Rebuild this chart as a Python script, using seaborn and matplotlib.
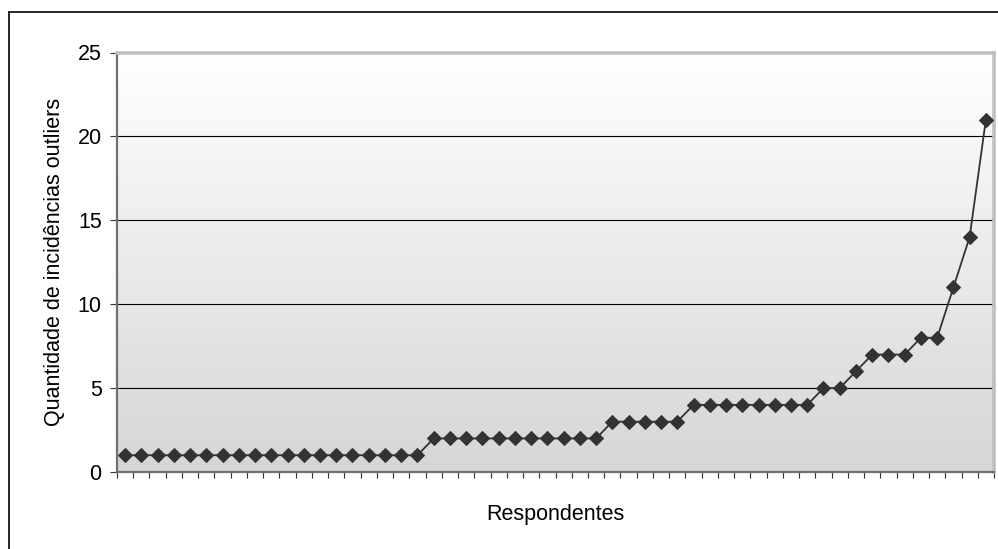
import numpy as np
import pandas as pd
import matplotlib
matplotlib.use("Agg")
import matplotlib.pyplot as plt
import seaborn as sns

# Outlier incidences per respondent, sorted ascending
respondentes = list(range(1, 55))
incidencias = ([1] * 19 + [2] * 11 + [3] * 5 + [4] * 8 + [5] * 2 + [6]
               + [7] * 3 + [8] * 2 + [11, 14, 21])
y_ticks = [0, 5, 10, 15, 20, 25]

df = pd.DataFrame({"pos": np.arange(len(respondentes)),
                   "respondente": respondentes,
                   "incidencias": incidencias})

sns.set_theme(style="white")
plt.rcParams["font.family"] = ["Liberation Sans", "DejaVu Sans"]

W, H = 998, 549
fig = plt.figure(figsize=(W / 100, H / 100), dpi=100)
ax = fig.add_axes([117 / W, 1 - 472 / H, (994 - 117) / W, (472 - 52.5) / H])

n = len(respondentes)
ax.set_xlim(-0.5, n - 0.5)
ax.set_ylim(0, 25)

# Vertical grey-to-white gradient inside the plot area (white at the top)
grad = np.linspace(0, 1, 256).reshape(-1, 1)
cmap = matplotlib.colors.LinearSegmentedColormap.from_list("bg", ["#d6d6d6", "#ffffff"])
ax.imshow(grad, cmap=cmap, aspect="auto", extent=(-0.5, n - 0.5, 0, 25),
          origin="lower", zorder=0)

for yv in y_ticks[1:-1]:
    ax.axhline(yv, color="black", linewidth=0.8, zorder=1)

sns.lineplot(data=df, x="pos", y="incidencias", ax=ax, color="#333333",
             linewidth=1.3, marker="D", markersize=7.2,
             markeredgecolor="#333333", markerfacecolor="#333333", zorder=3)

# Axes frame
ax.spines["top"].set_color("#c0c0c0")
ax.spines["top"].set_linewidth(2.6)
ax.spines["right"].set_color("#c0c0c0")
ax.spines["right"].set_linewidth(2.6)
ax.spines["left"].set_color("#707070")
ax.spines["left"].set_linewidth(1.6)
ax.spines["bottom"].set_color("#707070")
ax.spines["bottom"].set_linewidth(1.6)

ax.set_xticks(np.arange(-0.5, n, 1.0))
ax.set_xticklabels([])
ax.tick_params(axis="x", which="both", direction="out", length=4.5, width=0.8,
               color="#333333", bottom=True)
ax.set_yticks(y_ticks)
ax.set_yticklabels([str(v) for v in y_ticks], fontsize=15.5, color="black")
ax.tick_params(axis="y", direction="out", length=5, width=0.8, color="#333333",
               left=True, pad=6)

ax.set_xlabel("Respondentes", fontsize=15.5, color="black", labelpad=15)
ax.set_ylabel("Quantidade de incidências outliers", fontsize=15.5, color="black",
              labelpad=9)

# Outer chart border (left and top edges)
fig.add_artist(plt.Line2D([9 / W, 9 / W], [0, 1 - 12 / H],
                          transform=fig.transFigure, color="black", linewidth=1.2))
fig.add_artist(plt.Line2D([9 / W, 1], [1 - 12 / H, 1 - 12 / H],
                          transform=fig.transFigure, color="black", linewidth=1.2))

fig.savefig("out.png", dpi=100)
